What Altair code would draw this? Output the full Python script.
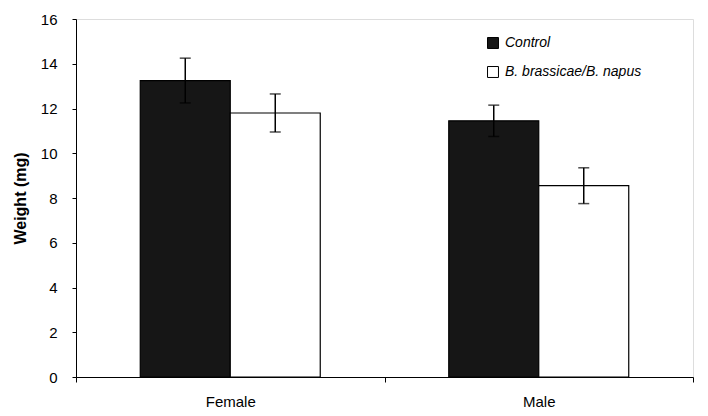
import altair as alt
import pandas as pd

sexes = ["Female", "Female", "Male", "Male"]
groups = ["Control", "B. brassicae/B. napus", "Control", "B. brassicae/B. napus"]
means = [13.25, 11.8, 11.45, 8.55]
errs = [1.0, 0.85, 0.7, 0.8]
group_order = ["Control", "B. brassicae/B. napus"]
sex_order = ["Female", "Male"]

df = pd.DataFrame({"sex": sexes, "group": groups, "mean": means, "err": errs})
df["lo"] = df["mean"] - df["err"]
df["hi"] = df["mean"] + df["err"]

FONT = "Liberation Sans"

x = alt.X("sex:N", sort=sex_order, title=None,
          scale=alt.Scale(paddingInner=0, paddingOuter=0),
          axis=alt.Axis(labelAngle=0, tickBand="extent", labelFontSize=15,
                        labelFont=FONT, labelColor="black", labelPadding=12,
                        labelBaseline="top",
                        domainColor="black", tickColor="black", tickSize=5,
                        domainWidth=1))
xo = alt.XOffset("group:N", sort=group_order,
                 scale=alt.Scale(paddingInner=0, paddingOuter=0.714))
y = alt.Y("mean:Q", title="Weight (mg)",
          scale=alt.Scale(domain=[0, 16]),
          axis=alt.Axis(values=list(range(0, 17, 2)), grid=False, labelFontSize=15,
                        labelFont=FONT, labelColor="black", titleFont=FONT,
                        titleFontSize=16, titleFontWeight="bold", titleColor="black",
                        titlePadding=12, domainColor="black", tickColor="black",
                        tickSize=4, labelPadding=15, domainWidth=1))

bars = alt.Chart(df).mark_bar(stroke="black", strokeWidth=1.2).encode(
    x=x, xOffset=xo, y=y,
    fill=alt.Fill("group:N", sort=group_order,
                  scale=alt.Scale(domain=group_order, range=["#161616", "white"]),
                  legend=alt.Legend(title=None, orient="none", legendX=410, legendY=17,
                                    symbolType="square", symbolSize=120,
                                    symbolStrokeColor="black", symbolStrokeWidth=1,
                                    labelFont=FONT, labelFontSize=14,
                                    labelFontStyle="italic", labelColor="black",
                                    rowPadding=13, labelOffset=5)),
)

rules = alt.Chart(df).mark_rule(color="black", strokeWidth=1.5).encode(
    x=alt.X("sex:N", sort=sex_order), xOffset=alt.XOffset("group:N", sort=group_order),
    y="lo:Q", y2="hi:Q")
caps_hi = alt.Chart(df).mark_tick(color="black", orient="horizontal", size=11,
                                  thickness=1.5).encode(
    x=alt.X("sex:N", sort=sex_order), xOffset=alt.XOffset("group:N", sort=group_order),
    y="hi:Q")
caps_lo = alt.Chart(df).mark_tick(color="black", orient="horizontal", size=11,
                                  thickness=1.5).encode(
    x=alt.X("sex:N", sort=sex_order), xOffset=alt.XOffset("group:N", sort=group_order),
    y="lo:Q")

chart = alt.layer(bars, rules, caps_hi, caps_lo).properties(
    width=617, height=358,
    autosize=alt.AutoSizeParams(type="none"),
    padding={"left": 68, "top": 11, "right": 5, "bottom": 32},
).configure_view(stroke=None).configure(background="white")

chart.save("out.html", embed_options={"renderer": "svg", "actions": False})
